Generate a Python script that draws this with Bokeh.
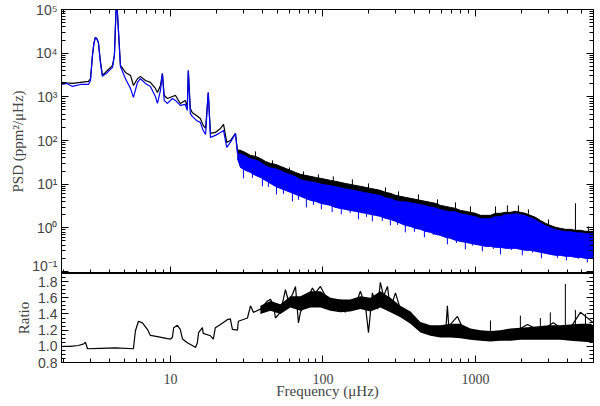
from bokeh.plotting import figure
from bokeh.layouts import column
from bokeh.models import Range1d, FixedTicker, LogAxis, LinearAxis, CustomJSTickFormatter
from bokeh.embed import file_html
from bokeh.resources import INLINE

# ---------------- data ----------------
# low-frequency part of the two spectra (µHz, ppm^2/µHz)
f_low = [1.93, 2.09, 2.28, 2.57, 2.90, 2.99, 3.08, 3.15, 3.22, 3.29, 3.37, 3.47, 3.58, 3.86,
         4.17, 4.29, 4.43, 4.56, 4.70, 5.07, 5.47, 5.72, 6.08, 6.36, 6.85, 7.39, 7.97, 8.22,
         8.60, 8.86, 9.10, 9.56, 10.3, 10.8, 11.6, 12.5, 12.9, 13.1, 13.5, 13.9, 14.8, 15.7,
         16.4, 17.0, 17.7, 18.3, 19.7, 21.3, 22.3, 23.4, 24.7, 26.7, 27.5, 28.8]
black_low = [2140, 2080, 2030, 2140, 2260, 2600, 8850, 17000, 22900, 21500, 17600, 6800, 3090,
             4020, 5230, 8850, 200000, 33000, 5230, 3620, 3090, 1820, 2600, 2940, 2370, 2140,
             1560, 1260, 1820, 3430, 1076, 918, 1020, 1076, 706, 828, 600, 4020, 543, 440, 375,
             320, 222, 189, 1260, 145, 153, 189, 233, 90.6, 100, 145, 59.3, 59.3]
blue_low = [1920, 2030, 1730, 1920, 1920, 2370, 8850, 17000, 22900, 21500, 17600, 6120, 2940,
            3620, 4710, 8850, 200000, 33000, 4960, 2600, 1560, 970, 2140, 2600, 2030, 1730,
            1020, 706, 1400, 3430, 828, 706, 918, 828, 636, 670, 489, 4020, 417, 356, 288,
            260, 170, 138, 1260, 118, 131, 153, 170, 69.5, 90.6, 145, 50.7, 45.6]

# noisy high-frequency part: envelopes of the two spectra
f_env = [27.5, 28.8, 31.0, 33.5, 36.1, 38.9, 42.0, 45.3, 48.8, 52.6, 56.8, 61.2, 66.1, 71.2,
         76.8, 82.8, 89.3, 96.3, 104, 112, 121, 130, 140, 151, 163, 176, 190, 205, 221, 238,
         257, 277, 299, 322, 347, 375, 404, 436, 470, 507, 547, 589, 636, 686, 740, 797, 860,
         928, 1000, 1079, 1164, 1255, 1354, 1459, 1574, 1698, 1830, 1972, 2128, 2295, 2475,
         2667, 2877, 3100, 3345, 3607, 3890, 4197, 4527, 4884, 5268, 5683, 5950]
black_hi = [59.3, 59.3, 53.4, 45.6, 43.3, 38.9, 33.2, 29.9, 28.4, 25.6, 23.0, 20.7, 18.6, 16.8,
            15.9, 15.1, 14.3, 13.6, 12.9, 12.2, 11.6, 11.0, 10.4, 9.89, 9.39, 8.91, 8.45, 8.01,
            7.60, 7.21, 6.49, 6.16, 5.54, 5.26, 4.99, 4.73, 4.49, 4.26, 4.04, 3.83, 3.64, 3.27,
            3.10, 2.94, 2.79, 2.51, 2.39, 2.26, 2.15, 1.93, 1.93, 1.93, 2.15, 2.15, 2.26, 2.26,
            2.39, 2.26, 2.15, 1.93, 1.74, 1.48, 1.27, 1.14, 1.03, 0.974, 0.924, 0.924, 0.877,
            0.877, 0.832, 0.832, 0.832]
blue_hi = [50.7, 50.7, 45.6, 38.9, 36.9, 33.2, 26.9, 24.2, 23.0, 20.7, 18.6, 16.8, 15.1, 12.9,
           12.2, 11.6, 11.0, 10.4, 9.89, 9.39, 8.91, 8.45, 8.01, 7.60, 7.21, 6.84, 6.49, 6.16,
           5.84, 5.54, 4.99, 4.73, 4.26, 4.04, 4.04, 3.83, 3.64, 3.45, 3.27, 3.10, 2.94, 2.65,
           2.51, 2.39, 2.39, 2.15, 2.04, 1.93, 1.83, 1.65, 1.65, 1.65, 1.83, 1.83, 2.04, 2.04,
           2.15, 2.04, 1.93, 1.74, 1.56, 1.34, 1.14, 1.03, 0.924, 0.877, 0.832, 0.832, 0.789,
           0.789, 0.748, 0.748, 0.748]
blue_lo = [38.9, 24.2, 20.7, 18.6, 15.9, 14.3, 12.2, 10.4, 8.91, 8.01, 7.21, 6.49, 5.84, 5.26,
           4.73, 4.26, 4.04, 3.64, 3.45, 3.27, 2.94, 2.79, 2.65, 2.51, 2.39, 2.26, 2.15, 2.04,
           1.93, 1.83, 1.65, 1.56, 1.41, 1.27, 1.14, 1.08, 0.974, 0.924, 0.832, 0.789, 0.710,
           0.673, 0.606, 0.575, 0.518, 0.491, 0.466, 0.442, 0.419, 0.398, 0.377, 0.377, 0.358,
           0.358, 0.340, 0.340, 0.340, 0.322, 0.306, 0.306, 0.290, 0.275, 0.261, 0.247, 0.235,
           0.235, 0.223, 0.223, 0.211, 0.211, 0.200, 0.200, 0.200]
# individual noise spikes: blue downward, black upward
blue_spike_f = [30.1, 34.5, 40.1, 43.9, 49.6, 55.1, 63.1, 69.1, 77.9, 86.6, 97.7, 115, 132, 151,
                171, 193, 211, 245, 277, 308, 347, 398, 463, 530, 655, 751, 859, 955, 1111, 1312,
                1459, 1722, 2032, 2365, 2710, 3450, 3953, 4730, 5420]
blue_spike_bot = [13.6, 14.0, 8.91, 8.7, 5.84, 6.0, 4.04, 4.4, 2.94, 3.35, 2.65, 2.3, 2.04, 2.2,
                  1.56, 1.78, 1.41, 1.44, 1.14, 1.17, 0.789, 0.81, 0.606, 0.69, 0.419, 0.45,
                  0.322, 0.39, 0.290, 0.33, 0.247, 0.31, 0.235, 0.27, 0.200, 0.205, 0.180, 0.195,
                  0.162]
blue_spike_top = [25, 22, 17, 13, 10, 9.5, 7.5, 6.5, 5.5, 5.0, 4.3, 3.8, 3.3, 3.0, 2.7, 2.5, 2.4,
                  2.1, 1.9, 1.6, 1.35, 1.2, 1.0, 0.9, 0.72, 0.62, 0.56, 0.52, 0.47, 0.45, 0.43,
                  0.41, 0.39, 0.37, 0.33, 0.28, 0.27, 0.25, 0.24]
black_spike_f = [36.1, 46.7, 60.3, 74.5, 93.4, 117, 156, 199, 257, 313, 423, 564, 740, 928, 1354,
                 1622, 1914, 2228, 3013, 4530, 5508]
black_spike_top = [56.3, 35.0, 24.2, 19.6, 16.8, 15.1, 12.9, 10.4, 8.45, 6.84, 5.84, 4.49, 3.83,
                   3.10, 3.10, 3.27, 3.27, 2.65, 1.56, 3.64, 1.08]
black_spike_base = [40, 28, 20, 16, 13.6, 11.6, 9.6, 8.0, 6.5, 5.2, 4.3, 3.5, 2.8, 2.2, 2.1, 2.2,
                    2.3, 2.1, 1.2, 0.8, 0.83]

# ratio panel
f_ratio = [1.93, 2.21, 2.49, 2.70, 2.77, 2.86, 3.47, 4.36, 5.72, 5.89, 6.17, 6.55, 7.06, 7.39,
           8.22, 9.56, 10.0, 10.3, 10.5, 11.1, 11.6, 12.0, 12.9, 14.2, 14.6, 15.0, 15.3, 16.2,
           16.4, 18.3, 19.1, 19.7, 21.3, 23.7, 24.7, 25.5, 27.5, 27.9, 32.0, 33.5, 35.0, 38.9,
           43.3, 45.3, 47.3, 48.8, 52.6, 56.8, 59.4, 63.1, 66.1, 69.1, 71.2, 79.1, 85.3, 89.3,
           96.3, 104, 112, 121, 130, 140, 151, 163, 176, 190, 199, 211, 228, 238, 250, 265, 277,
           299, 322, 347, 375, 417, 456, 492, 531, 589, 640, 655, 670, 686, 762, 834, 926, 1030,
           1199, 1459, 1775, 2193, 2667, 3243, 4010, 4884, 5950]
ratio = [1.00, 1.00, 1.01, 1.03, 1.05, 0.97, 0.975, 0.98, 0.97, 1.19, 1.31, 1.29, 1.21, 1.135,
         1.12, 1.095, 1.09, 1.11, 1.23, 1.26, 1.21, 1.09, 1.045, 1.00, 0.985, 1.04, 1.17, 1.23,
         1.16, 1.13, 1.09, 1.23, 1.27, 1.33, 1.34, 1.21, 1.20, 1.31, 1.35, 1.50, 1.42, 1.46,
         1.56, 1.58, 1.52, 1.35, 1.42, 1.70, 1.56, 1.64, 1.74, 1.29, 1.42, 1.58, 1.72, 1.66,
         1.74, 1.62, 1.54, 1.46, 1.58, 1.42, 1.56, 1.50, 1.68, 1.50, 1.17, 1.66, 1.46, 1.79,
         1.62, 1.74, 1.46, 1.66, 1.46, 1.37, 1.42, 1.29, 1.17, 1.25, 1.21, 1.15, 1.20, 1.50,
         1.22, 1.27, 1.37, 1.21, 1.17, 1.11, 1.09, 1.13, 1.17, 1.27, 1.19, 1.29, 1.17, 1.42, 1.29]
f_rband = [38.9, 45.3, 52.6, 61.2, 71.2, 82.8, 96.3, 112, 130, 151, 176, 205, 238, 277, 322, 375,
           436, 507, 589, 686, 797, 928, 1079, 1255, 1459, 1698, 1972, 2295, 2667, 3100, 3607,
           4197, 4884, 5683, 5950]
ratio_lo = [1.40, 1.44, 1.40, 1.48, 1.44, 1.48, 1.48, 1.44, 1.42, 1.43, 1.46, 1.43, 1.48, 1.42,
            1.36, 1.28, 1.17, 1.13, 1.11, 1.11, 1.10, 1.08, 1.07, 1.06, 1.07, 1.07, 1.08, 1.08,
            1.08, 1.08, 1.08, 1.07, 1.06, 1.05, 1.05]
ratio_hi = [1.50, 1.56, 1.52, 1.62, 1.62, 1.68, 1.68, 1.60, 1.58, 1.58, 1.62, 1.60, 1.68, 1.60,
            1.50, 1.43, 1.30, 1.26, 1.26, 1.28, 1.28, 1.22, 1.20, 1.19, 1.20, 1.22, 1.23, 1.24,
            1.25, 1.26, 1.26, 1.27, 1.28, 1.28, 1.26]
r_spike_f = [3890, 1255, 1972, 2667, 3100, 4527, 5268]
r_spike_top = [1.77, 1.32, 1.38, 1.35, 1.42, 1.45, 1.40]
r_spike_base = [1.15, 1.15, 1.15, 1.15, 1.15, 1.15, 1.15]

# ticks
x_major = [10, 100, 1000]
x_minor = [m * 10 ** e for e in range(0, 4) for m in range(2, 10)]
psd_major = [0.1, 1, 10, 100, 1000, 10000, 100000]
psd_minor = [m * 10.0 ** e for e in range(-2, 5) for m in range(2, 10)]
ratio_major = [0.8, 1.0, 1.2, 1.4, 1.6, 1.8]
ratio_minor = [round(0.8 + 0.05 * i, 2) for i in range(23)]

SERIF = "Liberation Serif"
SANS = "Liberation Sans"
BLUE = "#0000ff"

blank_fmt = CustomJSTickFormatter(code="return '';")
sup_fmt = CustomJSTickFormatter(code="""
const s = {'-':'\u207b','0':'\u2070','1':'\u00b9','2':'\u00b2','3':'\u00b3','4':'\u2074',
           '5':'\u2075','6':'\u2076','7':'\u2077','8':'\u2078','9':'\u2079'};
const e = Math.round(Math.log10(tick));
return '10' + String(e).split('').map(c => s[c]).join('');
""")
plain_fmt = CustomJSTickFormatter(code="return String(Math.round(tick));")
dec_fmt = CustomJSTickFormatter(code="return tick.toFixed(1);")


def style(ax, labels=True):
    ax.major_tick_in = 7
    ax.major_tick_out = 0
    ax.minor_tick_in = 4
    ax.minor_tick_out = 0
    ax.axis_line_color = "black"
    ax.major_tick_line_color = "black"
    ax.minor_tick_line_color = "black"
    if not labels:
        ax.major_label_text_font_size = "0px"
        ax.major_label_standoff = 0
    return ax


xr = Range1d(1.93, 5950)

# ---------------- top panel ----------------
p1 = figure(width=600, height=273, x_range=xr, y_range=Range1d(0.09, 1e5),
            x_axis_type="log", y_axis_type="log", x_axis_location=None, y_axis_location=None,
            output_backend="svg", toolbar_location=None,
            min_border_left=61, min_border_right=7, min_border_top=9, min_border_bottom=0)
p1.outline_line_color = "black"
p1.background_fill_color = "white"
p1.grid.grid_line_color = None

yl = style(LogAxis(ticker=FixedTicker(ticks=psd_major, minor_ticks=psd_minor), formatter=sup_fmt,
                   axis_label="PSD (ppm\u00b2/\u03bcHz)"))
yl.major_label_text_font = SANS
yl.major_label_text_font_size = "14px"
yl.major_label_standoff = 4
yl.axis_label_text_font = SERIF
yl.axis_label_text_font_size = "15px"
yl.axis_label_text_font_style = "normal"
yl.axis_label_standoff = 3
p1.add_layout(yl, "left")
p1.add_layout(style(LogAxis(ticker=FixedTicker(ticks=psd_major, minor_ticks=psd_minor),
                            formatter=blank_fmt), labels=False), "right")
p1.add_layout(style(LogAxis(ticker=FixedTicker(ticks=x_major, minor_ticks=x_minor),
                            formatter=blank_fmt), labels=False), "above")
p1.add_layout(style(LogAxis(ticker=FixedTicker(ticks=x_major, minor_ticks=x_minor),
                            formatter=blank_fmt), labels=False), "below")

p1.line(f_low, black_low, line_color="black", line_width=1.2)
p1.varea(x=f_env, y1=blue_lo, y2=black_hi, fill_color="black")
p1.line(f_env, black_hi, line_color="black", line_width=1)
p1.segment(x0=black_spike_f, y0=black_spike_base, x1=black_spike_f, y1=black_spike_top,
           line_color="black", line_width=1)
p1.line(f_low, blue_low, line_color=BLUE, line_width=1.2)
p1.varea(x=f_env, y1=blue_lo, y2=blue_hi, fill_color=BLUE)
p1.line(f_env, blue_lo, line_color=BLUE, line_width=1)
p1.segment(x0=blue_spike_f, y0=blue_spike_bot, x1=blue_spike_f, y1=blue_spike_top,
           line_color=BLUE, line_width=1)

# ---------------- ratio panel ----------------
p2 = figure(width=600, height=133, x_range=xr, y_range=Range1d(0.8, 1.9),
            x_axis_type="log", x_axis_location=None, y_axis_location=None,
            output_backend="svg", toolbar_location=None,
            min_border_left=61, min_border_right=7, min_border_top=0, min_border_bottom=44)
p2.outline_line_color = "black"
p2.background_fill_color = "white"
p2.grid.grid_line_color = None

xb = style(LogAxis(ticker=FixedTicker(ticks=x_major, minor_ticks=x_minor), formatter=plain_fmt,
                   axis_label="Frequency (\u03bcHz)"))
xb.major_label_text_font = SERIF
xb.major_label_text_font_size = "14px"
xb.major_label_standoff = 11
xb.axis_label_text_font = SERIF
xb.axis_label_text_font_size = "15px"
xb.axis_label_text_font_style = "normal"
xb.axis_label_standoff = -4
p2.add_layout(xb, "below")

yr = style(LinearAxis(ticker=FixedTicker(ticks=ratio_major, minor_ticks=ratio_minor),
                      formatter=dec_fmt, axis_label="Ratio"))
yr.major_label_text_font = SANS
yr.major_label_text_font_size = "14px"
yr.major_label_standoff = 4
yr.axis_label_text_font = SERIF
yr.axis_label_text_font_size = "15px"
yr.axis_label_text_font_style = "normal"
yr.axis_label_standoff = 3
p2.add_layout(yr, "left")
p2.add_layout(style(LinearAxis(ticker=FixedTicker(ticks=ratio_major, minor_ticks=ratio_minor),
                               formatter=blank_fmt), labels=False), "right")

p2.varea(x=f_rband, y1=ratio_lo, y2=ratio_hi, fill_color="black")
p2.line(f_ratio, ratio, line_color="black", line_width=1.2)
p2.segment(x0=r_spike_f, y0=r_spike_base, x1=r_spike_f, y1=r_spike_top,
           line_color="black", line_width=1)

layout = column(p1, p2, spacing=0)
open("out.html", "w", encoding="utf-8").write(file_html(layout, INLINE))
